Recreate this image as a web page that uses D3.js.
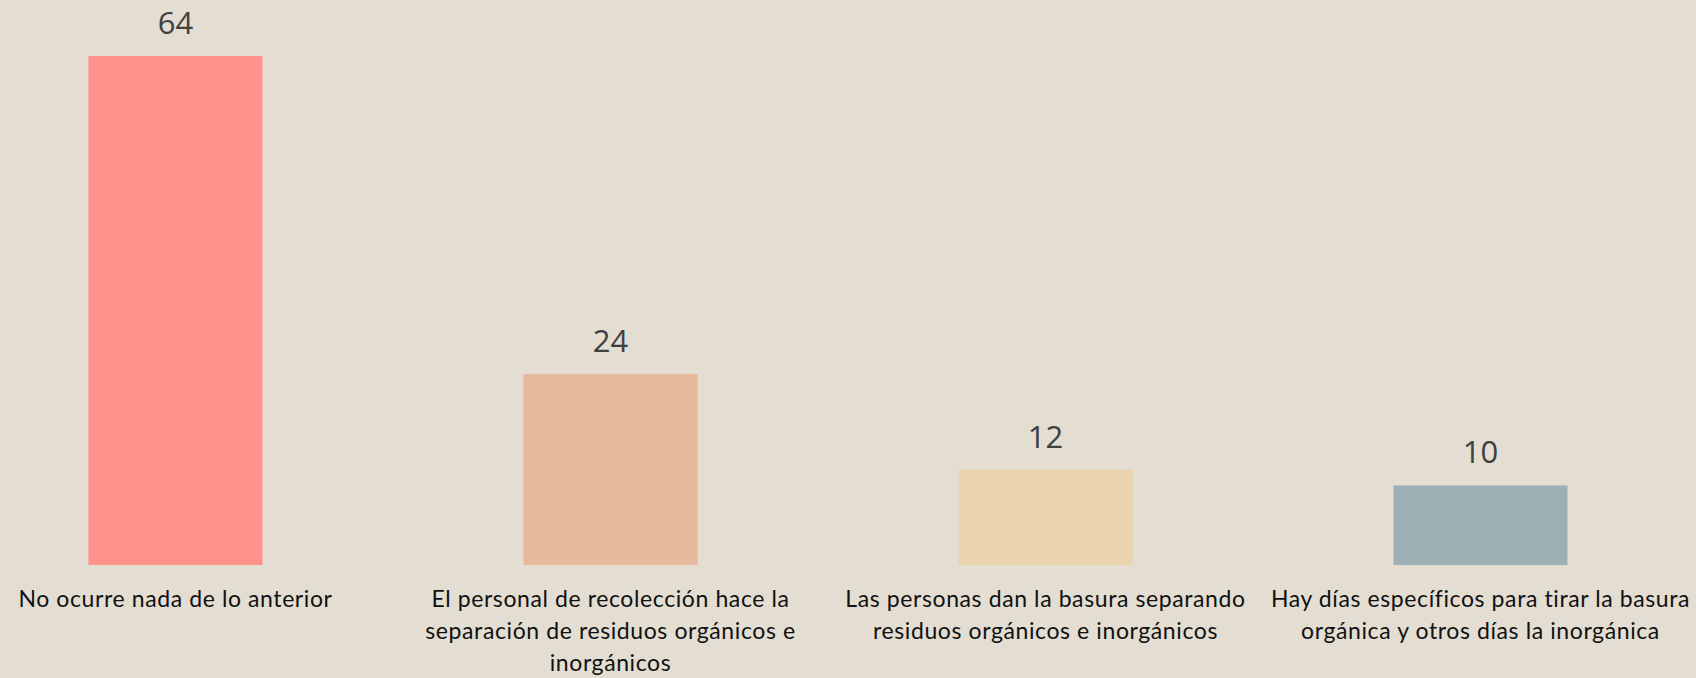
<!DOCTYPE html>
<html>
<head>
<meta charset="utf-8">
<script src="https://cdn.jsdelivr.net/npm/d3@7"></script>
<style>
    html, body { margin: 0; padding: 0; background: #e3ddd2; }
    svg { display: block; }
</style>
</head>
<body>
<svg id="chart"></svg>
<script>
var categories = [
        "No ocurre nada de lo anterior",
        "El personal de recolección hace la separación de residuos orgánicos e inorgánicos",
        "Las personas dan la basura separando residuos orgánicos e inorgánicos",
        "Hay días específicos para tirar la basura orgánica y otros días la inorgánica"
    ],
    //line breaks as they appear under each bar
    categoryLines = [
        ["No ocurre nada de lo anterior"],
        ["El personal de recolección hace la", "separación de residuos orgánicos e", "inorgánicos"],
        ["Las personas dan la basura separando", "residuos orgánicos e inorgánicos"],
        ["Hay días específicos para tirar la basura", "orgánica y otros días la inorgánica"]
    ],
    values = [64, 24, 12, 10],
    barColors = ["#ff928b", "#e6b99c", "#ead3ae", "#9eafb6"];

var width = 1696,
    height = 678,
    baseline = 565;

var svg = d3.select("#chart")
    .attr("width", width)
    .attr("height", height);

var x = d3.scaleBand()
    .domain(categories)
    .range([-42, 1698])
    .paddingInner(0.6)
    .paddingOuter(0.3);

var y = d3.scaleLinear()
    .domain([0, 64])
    .range([baseline, 56]);

var color = d3.scaleOrdinal()
    .domain(categories)
    .range(barColors);

var bar = svg.selectAll("g.bar")
    .data(categories)
    .enter().append("g")
        .attr("class", "bar");

bar.append("rect")
    .attr("x", function (d) { return x(d); })
    .attr("y", function (d, i) { return y(values[i]); })
    .attr("width", x.bandwidth())
    .attr("height", function (d, i) { return y(0) - y(values[i]); })
    .attr("fill", function (d) { return color(d); });

//value labels above the bars
bar.append("text")
    .attr("x", function (d) { return x(d) + x.bandwidth() / 2; })
    .attr("y", function (d, i) { return y(values[i]) - 22; })
    .attr("text-anchor", "middle")
    .attr("font-family", "'Open Sans', sans-serif")
    .attr("font-size", 31)
    .attr("fill", "#404040")
    .text(function (d, i) { return values[i]; });

//category labels under the bars
var label = bar.append("text")
    .attr("text-anchor", "middle")
    .attr("font-family", "Lato, sans-serif")
    .attr("font-size", 23)
    .attr("letter-spacing", 0.6)
    .attr("fill", "#111111");

label.selectAll("tspan")
    .data(function (d, i) { return categoryLines[i].map(function (l) { return {cat: d, line: l}; }); })
    .enter().append("tspan")
        .attr("x", function (d) { return x(d.cat) + x.bandwidth() / 2; })
        .attr("y", function (d, j) { return 607 + j * 32; })
        .text(function (d) { return d.line; });
</script>
</body>
</html>
